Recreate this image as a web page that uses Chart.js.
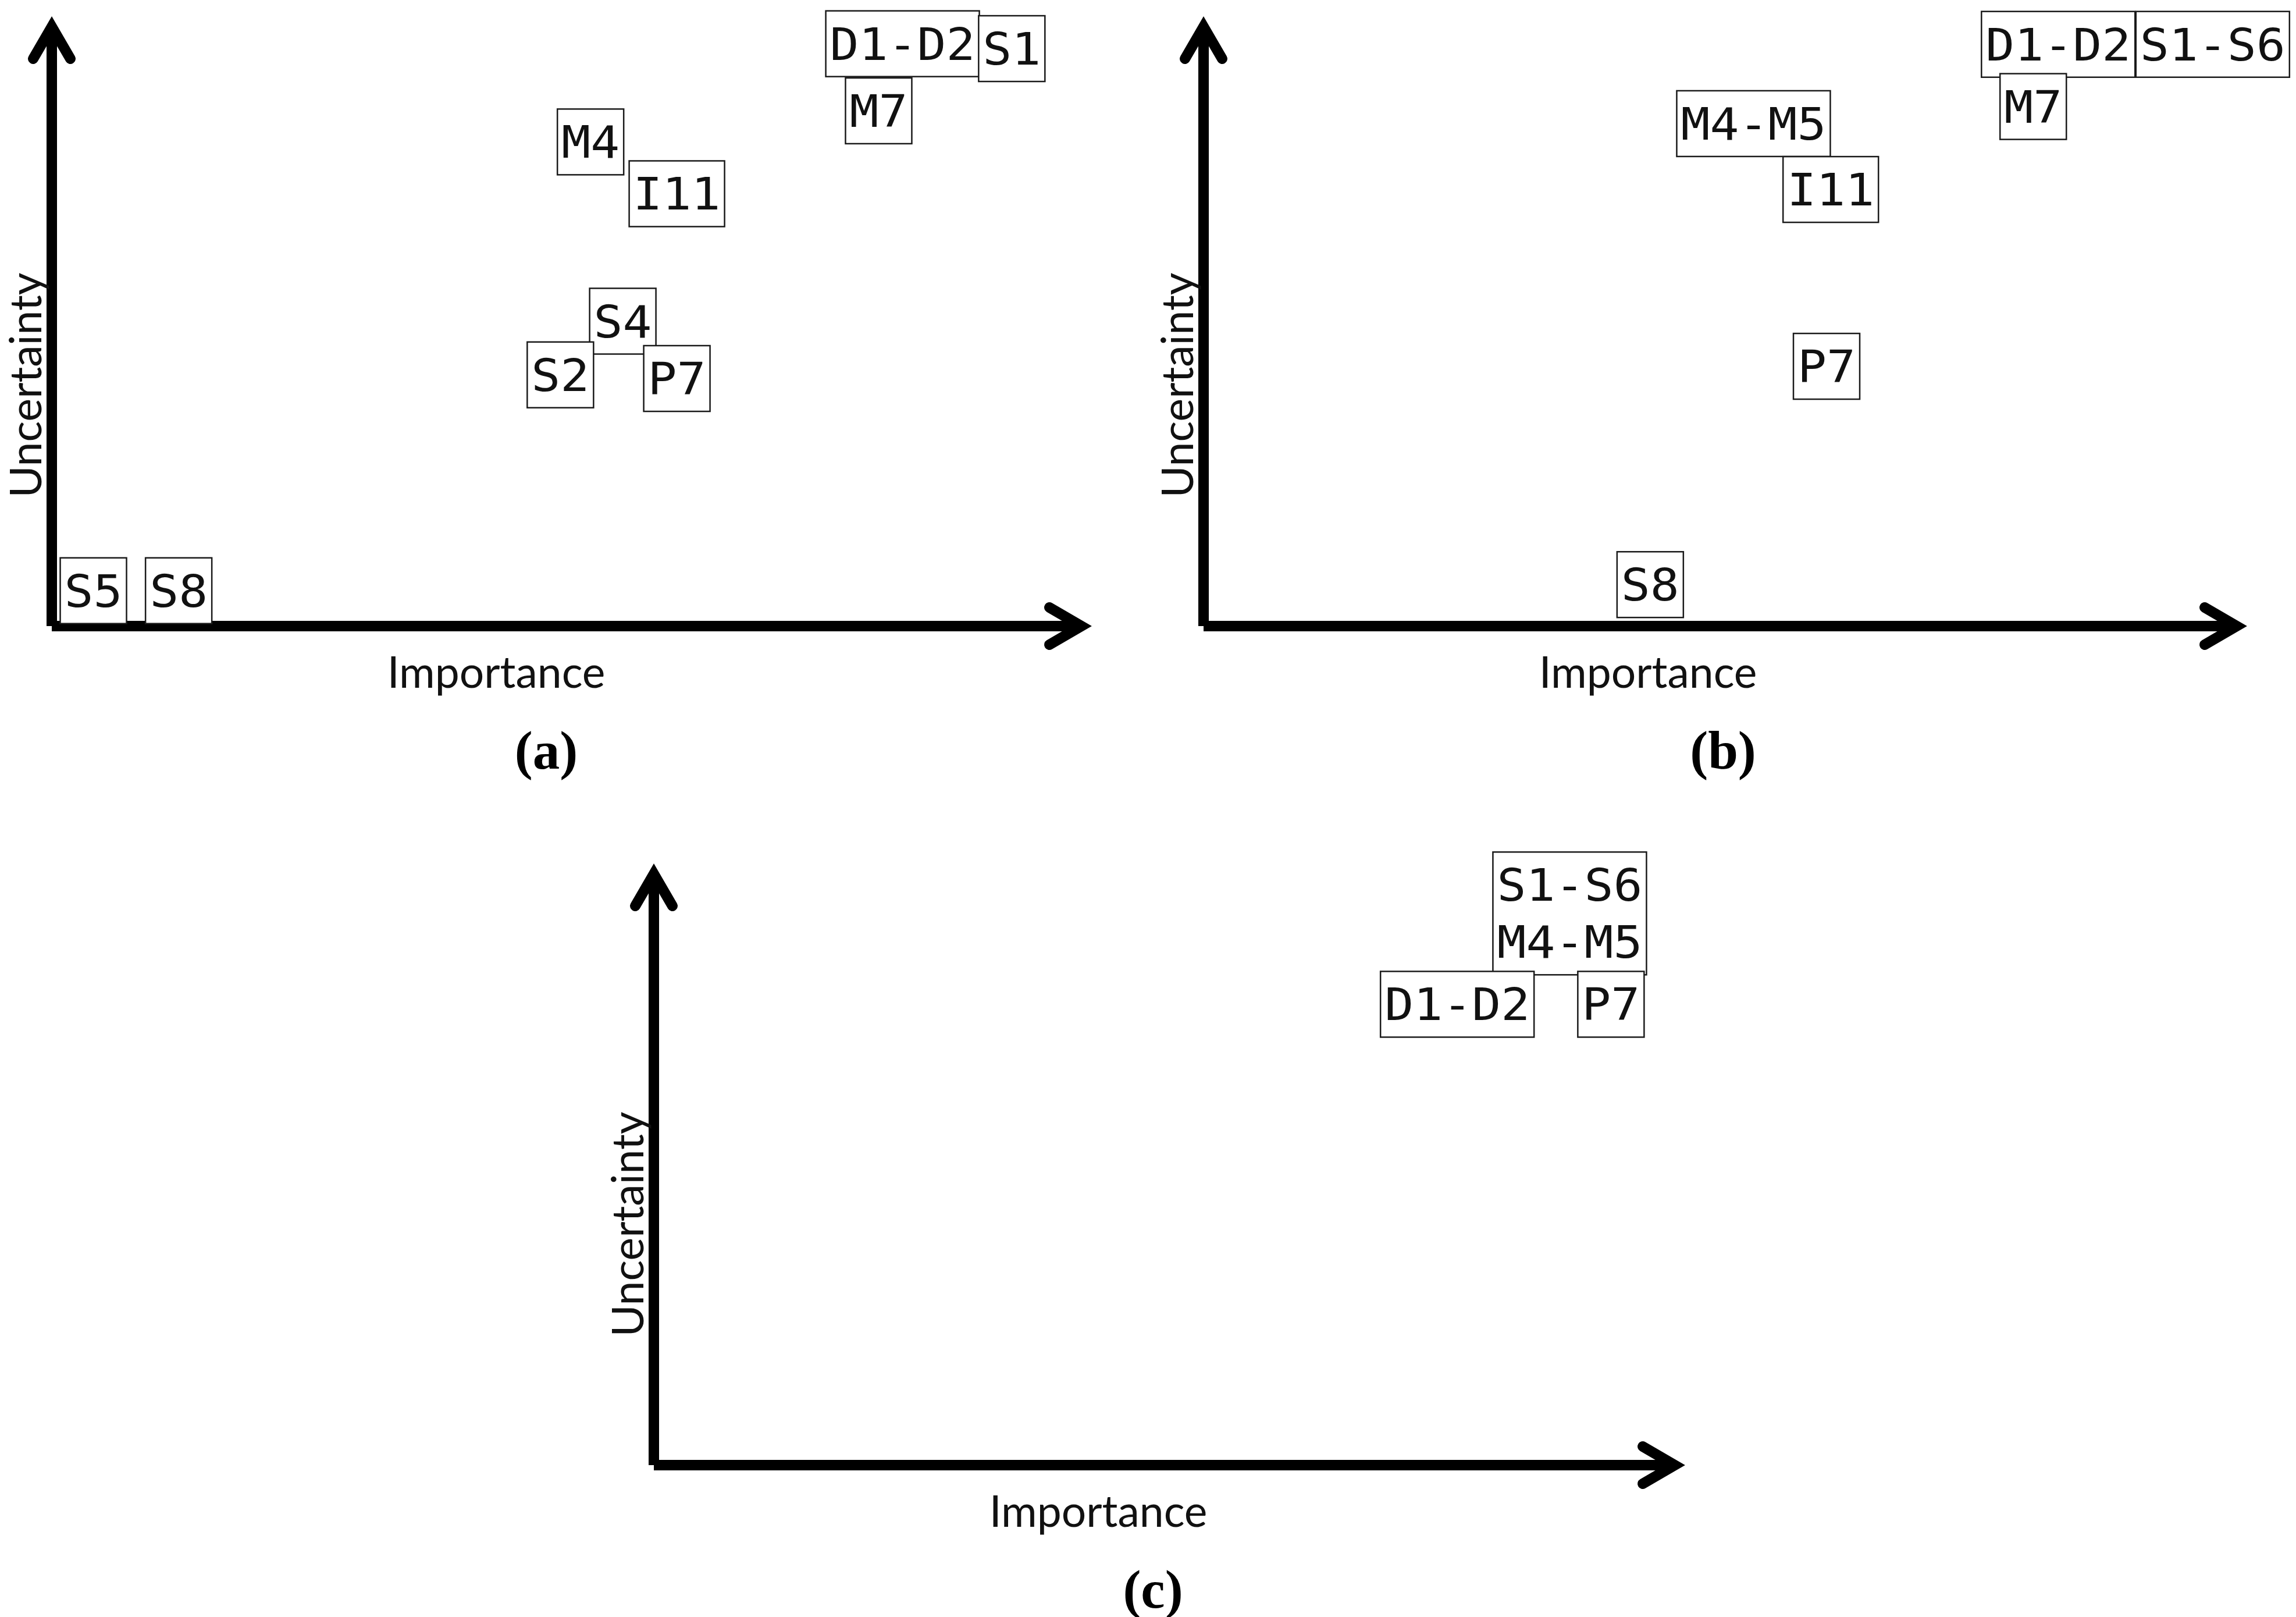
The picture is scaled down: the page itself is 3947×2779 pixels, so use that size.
<!DOCTYPE html>
<html><head><meta charset="utf-8">
<script src="https://cdn.jsdelivr.net/npm/chart.js@4/dist/chart.umd.min.js"></script>
<style>
html,body{margin:0;padding:0;background:#fff;}
#wrap{position:relative;width:3947px;height:2779px;background:#fff;overflow:hidden;}
canvas{position:absolute;}
</style></head><body><div id="wrap">
<canvas id="ca" width="1973" height="1390" style="left:0;top:0"></canvas>
<canvas id="cb" width="1974" height="1390" style="left:1973px;top:0"></canvas>
<canvas id="cc" width="3947" height="1389" style="left:0;top:1390px"></canvas>
</div>
<script>
// ---- data ----
const axisTitleX = 'Importance';
const axisTitleY = 'Uncertainty';
const panelTags = ['(a)', '(b)', '(c)'];

const itemsA = ['D1-D2', 'S1', 'M7', 'M4', 'I11', 'S4', 'S2', 'P7', 'S5', 'S8'];
const importanceA = [81.8, 92.3, 79.5, 51.8, 60.1, 54.9, 48.9, 60.1, 4.0, 12.2];
const uncertaintyA = [95.5, 94.7, 84.5, 79.4, 70.9, 50.0, 41.2, 40.6, 5.8, 5.8];

const itemsB = ['D1-D2', 'S1-S6', 'M7', 'M4-M5', 'I11', 'P7', 'S8'];
const importanceB = [81.9, 96.7, 79.5, 52.7, 60.1, 59.7, 42.8];
const uncertaintyB = [95.4, 95.4, 85.2, 82.4, 71.6, 42.6, 6.8];

const itemsC = ['S1-S6\nM4-M5', 'D1-D2', 'P7'];
const importanceC = [88.8, 77.9, 92.8];
const uncertaintyC = [91.7, 76.6, 76.6];

// ---- drawing plugin ----
const quadrantPlugin = {
  id: 'quadrant',
  afterDatasetsDraw(chart, args, opts) {
    const ctx = chart.ctx;
    const xs = chart.scales.x, ys = chart.scales.y;
    const x0 = xs.getPixelForValue(0), y0 = ys.getPixelForValue(0);
    const xT = xs.getPixelForValue(100), yT = ys.getPixelForValue(100);
    ctx.save();
    // axes
    ctx.strokeStyle = '#000';
    ctx.lineWidth = 18;
    ctx.lineCap = 'butt';
    ctx.beginPath(); ctx.moveTo(x0, y0); ctx.lineTo(x0, yT + 20); ctx.stroke();
    ctx.beginPath(); ctx.moveTo(x0, y0); ctx.lineTo(xT - 20, y0); ctx.stroke();
    ctx.lineJoin = 'miter'; ctx.lineCap = 'round';
    ctx.beginPath();
    ctx.moveTo(x0 - 32, yT + 18 + 55); ctx.lineTo(x0, yT + 18); ctx.lineTo(x0 + 32, yT + 18 + 55);
    ctx.stroke();
    ctx.beginPath();
    ctx.moveTo(xT - 18 - 55, y0 - 32); ctx.lineTo(xT - 18, y0); ctx.lineTo(xT - 18 - 55, y0 + 32);
    ctx.stroke();

    // axis titles
    ctx.fillStyle = '#111';
    ctx.font = '75px Lato';
    ctx.textAlign = 'center';
    ctx.textBaseline = 'alphabetic';
    ctx.fillText(axisTitleX, x0 + 764, y0 + 106);
    ctx.save();
    ctx.translate(x0 - 18, y0 - 414);
    ctx.rotate(-Math.PI / 2);
    ctx.fillText(axisTitleY, 0, 0);
    ctx.restore();
    // panel tag
    ctx.fillStyle = '#000';
    ctx.font = 'bold 93px "Liberation Serif"';
    ctx.fillText(opts.tag, x0 + opts.tagDx, y0 + 245);

    // labelled boxes
    const meta = chart.getDatasetMeta(0);
    const names = chart.data.labels;
    const adv = 50, pad = 7, lh = 98;
    ctx.font = '76px "DejaVu Sans Mono"';
    meta.data.forEach((pt, i) => {
      const lines = String(names[i]).split('\n');
      const n = Math.max(...lines.map(l => l.length));
      const w = n * adv + 2 * pad;
      const h = 113 + (lines.length - 1) * lh;
      const left = pt.x - w / 2, top = pt.y - h / 2;
      ctx.fillStyle = '#fff';
      ctx.fillRect(left, top, w, h);
      ctx.strokeStyle = '#1a1a1a';
      ctx.lineWidth = 2.5;
      ctx.strokeRect(left, top, w, h);
      ctx.fillStyle = '#111';
      lines.forEach((l, k) => {
        const tw = ctx.measureText(l).width;
        const sx = (l.length * adv) / tw;
        ctx.save();
        ctx.translate(pt.x, top + 84 + k * lh);
        ctx.scale(sx, 1);
        ctx.textAlign = 'center';
        ctx.fillText(l, 0, 0);
        ctx.restore();
      });
    });
    ctx.restore();
  }
};

function makeChart(id, items, xv, yv, tag, tagDx, pad) {
  return new Chart(document.getElementById(id), {
    type: 'scatter',
    data: {
      labels: items,
      datasets: [{
        data: xv.map((x, i) => ({ x: x, y: yv[i] })),
        pointRadius: 0, pointHoverRadius: 0, showLine: false
      }]
    },
    options: {
      responsive: false, animation: false, devicePixelRatio: 1,
      events: [],
      layout: { padding: pad },
      plugins: { legend: { display: false }, tooltip: { enabled: false }, quadrant: { tag: tag, tagDx: tagDx } },
      scales: {
        x: { type: 'linear', min: 0, max: 100, display: false },
        y: { type: 'linear', min: 0, max: 100, display: false }
      }
    },
    plugins: [quadrantPlugin]
  });
}

makeChart('ca', itemsA, importanceA, uncertaintyA, panelTags[0], 850, { left: 89, top: 28, right: 96, bottom: 314 });
makeChart('cb', itemsB, importanceB, uncertaintyB, panelTags[1], 893, { left: 96, top: 28, right: 84, bottom: 314 });
makeChart('cc', itemsC, importanceC, uncertaintyC, panelTags[2], 858, { left: 1124, top: 94, right: 1050, bottom: 261 });
</script>
</body></html>
